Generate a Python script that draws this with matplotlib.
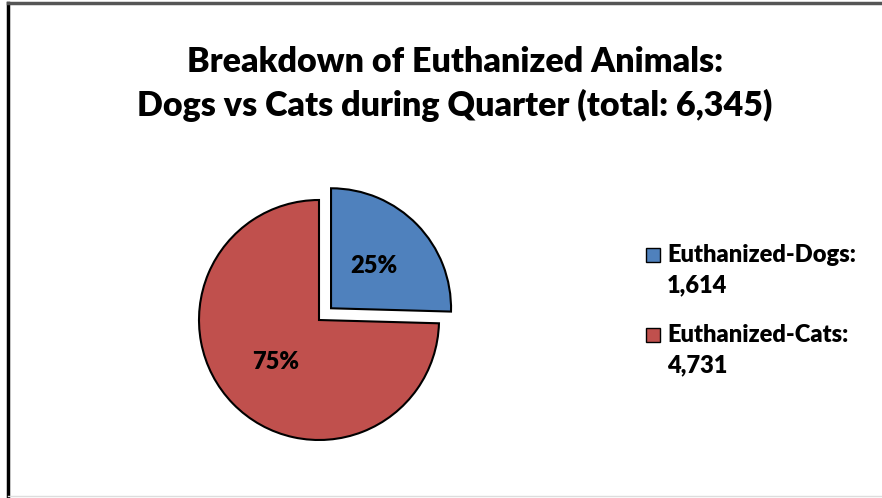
import matplotlib.pyplot as plt
from matplotlib.patches import Rectangle
from matplotlib.lines import Line2D

plt.rcParams['font.family'] = ['Lato', 'DejaVu Sans']

labels = ["Euthanized-Dogs:", "Euthanized-Cats:"]
counts = [1614, 4731]
colors = ["#4F81BD", "#C0504D"]
total = sum(counts)

W, H = 882, 498
fig = plt.figure(figsize=(W / 100, H / 100), dpi=100)

# chart frame (left/top dark, bottom light)
fig.add_artist(Line2D([8 / W, 8 / W], [1 - 3 / H, 1 - 496 / H], color="black", lw=2.5))
fig.add_artist(Line2D([8 / W, 1], [1 - 3 / H, 1 - 3 / H], color="#555555", lw=2.5))
fig.add_artist(Line2D([8 / W, 1], [1 - 496 / H, 1 - 496 / H], color="#dddddd", lw=1))

# pie axes: center (319, 320) px, radius 120 px
cx, cy, r = 319, 320, 120
half = 1.25 * r
ax = fig.add_axes([(cx - half) / W, 1 - (cy + half) / H, 2 * half / W, 2 * half / H])
ax.pie(counts, colors=colors, startangle=90, counterclock=False,
       explode=[0.14, 0], autopct='%1.0f%%', pctdistance=0.5,
       wedgeprops=dict(edgecolor="black", linewidth=1.5),
       textprops=dict(fontsize=17, fontweight="heavy", color="black"))
ax.set_xlim(-1.25, 1.25)
ax.set_ylim(-1.25, 1.25)
ax.set_aspect('auto')
ax.axis('off')

fig.text(455 / W, 1 - 84 / H,
         "Breakdown of Euthanized Animals:\nDogs vs Cats during Quarter (total: {:,})".format(total),
         ha="center", va="center", fontsize=24.5, fontweight="heavy", linespacing=1.38)

# legend
ys = [255, 335]
for lab, n, c, y in zip(labels, counts, colors, ys):
    fig.add_artist(Rectangle((646 / W, 1 - (y + 7) / H), 14 / W, 14 / H,
                             facecolor=c, edgecolor="black", lw=1))
    fig.text(667 / W, 1 - y / H, lab, ha="left", va="center", fontsize=17, fontweight="heavy")
    fig.text(667 / W, 1 - (y + 30) / H, "{:,}".format(n), ha="left", va="center",
             fontsize=17, fontweight="heavy")

fig.savefig("out.png", dpi=100)
